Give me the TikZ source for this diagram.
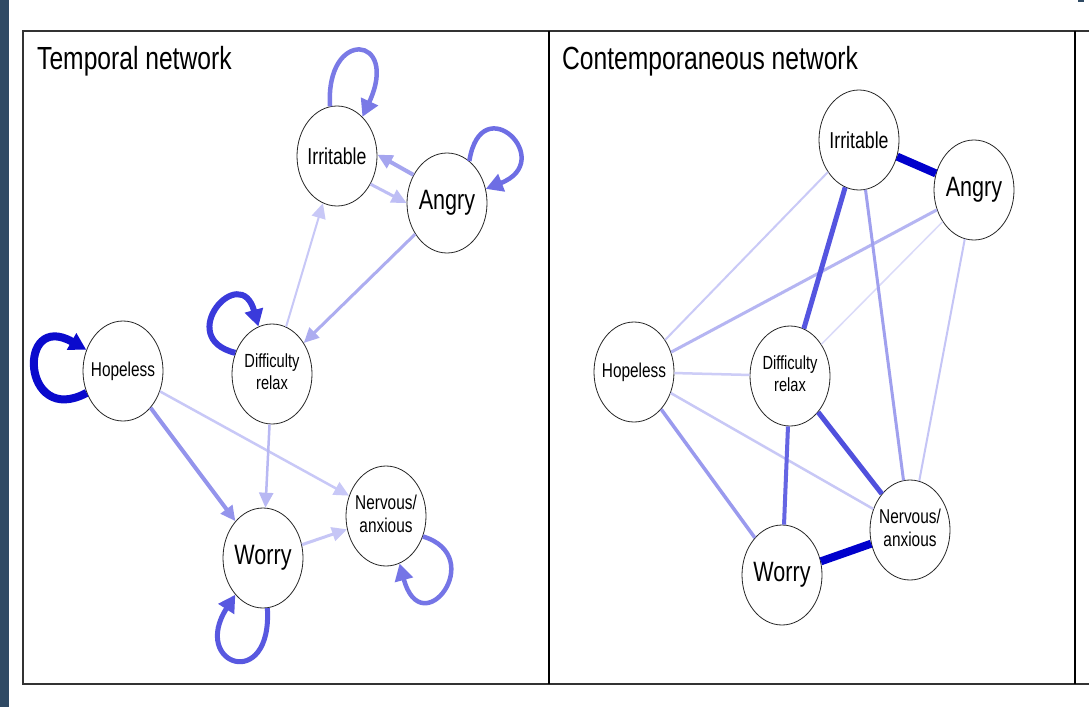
\documentclass[tikz,border=0pt]{standalone}
\usepackage{fontspec}
\setmainfont{Liberation Sans}
\usetikzlibrary{shapes.geometric,arrows.meta}
\newcommand{\sq}[1]{\scalebox{0.77}[1]{#1}}
\definecolor{stripc}{RGB}{47,74,100}
\definecolor{framec}{HTML}{333333}
% temporal colours
\definecolor{cLoopHop}{HTML}{0A0ACD}
\definecolor{cLoopDif}{HTML}{3A3ADB}
\definecolor{cLoopWor}{HTML}{5858E0}
\definecolor{cLoopNer}{HTML}{7575E6}
\definecolor{cLoopIrr}{HTML}{7A7AE6}
\definecolor{cLoopAng}{HTML}{6E6EE4}
\definecolor{cAI}{HTML}{A5A5EF}
\definecolor{cIA}{HTML}{BEBEF5}
\definecolor{cAD}{HTML}{ADADF0}
\definecolor{cDI}{HTML}{C8C8F7}
\definecolor{cDW}{HTML}{B8B8F3}
\definecolor{cHW}{HTML}{9494EC}
\definecolor{cHN}{HTML}{C8C8F7}
\definecolor{cWN}{HTML}{C6C6F6}
% contemporaneous colours
\definecolor{kIA}{HTML}{0000CC}
\definecolor{kWN}{HTML}{0000CC}
\definecolor{kID}{HTML}{5555E0}
\definecolor{kDN}{HTML}{5050DD}
\definecolor{kDW}{HTML}{6565E3}
\definecolor{kHW}{HTML}{9A9AEE}
\definecolor{kIN}{HTML}{A0A0EE}
\definecolor{kAH}{HTML}{B5B5F2}
\definecolor{kAN}{HTML}{C5C5F6}
\definecolor{kIH}{HTML}{CACAF7}
\definecolor{kHD}{HTML}{CDCDF7}
\definecolor{kHN}{HTML}{C8C8F6}
\definecolor{kAD}{HTML}{DADAF9}
\begin{document}
\begin{tikzpicture}[x=1pt,y=-1pt,
  vnode/.style={ellipse, draw=black!85, line width=0.8pt, fill=white,
    minimum width=80pt, minimum height=100pt, inner sep=-12pt},
  big/.style={font=\fontsize{28}{32}\selectfont},
  mid/.style={font=\fontsize{23}{26}\selectfont},
  small/.style={font=\fontsize{20}{23}\selectfont},
  tiny/.style={font=\fontsize{19}{22}\selectfont},
  title/.style={anchor=base west, inner sep=0pt, font=\fontsize{32}{38}\selectfont},
  tarr/.style={-{Triangle[length=15pt,width=14pt]}},
  larr/.style={-{Triangle[length=17pt,width=18pt]}},
  frame/.style={draw=framec, line width=2pt},
  divider/.style={draw=black, line width=2.5pt}
]
\useasboundingbox (0,0) rectangle (1089,707);
\fill[white] (0,0) rectangle (1089,707);
\fill[stripc] (0,0) rectangle (9,707);
\fill[stripc] (1078,0) rectangle (1084,2);

% frames
\draw[frame] (22,31) -- (1089,31);
\draw[frame] (22,684) -- (1089,684);
\draw[frame] (23,31) -- (23,684);
\draw[divider] (549,31) -- (549,684);
\draw[divider] (1075,31) -- (1075,684);

% titles
\node[title] (t1) at (37,69) {\sq{Temporal network}};
\node[title] (t2) at (562,69) {\sq{Contemporaneous network}};

% ---------- temporal network ----------
\node[vnode, mid] (irrT) at (337,156) {\sq{Irritable}};
\node[vnode, big] (angT) at (447,203) {\sq{Angry}};
\node[vnode, tiny] (difT) at (272,374) {\sq{\begin{tabular}{@{}c@{}}Difficulty\\relax\end{tabular}}};
\node[vnode, small] (hopT) at (123,371) {\sq{Hopeless}};
\node[vnode, big] (worT) at (263,558) {\sq{Worry}};
\node[vnode, small] (nerT) at (386,516) {\sq{\begin{tabular}{@{}c@{}}Nervous/\\anxious\end{tabular}}};

\draw[tarr, draw=cDI, line width=2pt] (difT) -- (irrT);
\draw[tarr, draw=cAD, line width=3pt] (angT) -- (difT);
\draw[tarr, draw=cAI, line width=4pt] (angT.140) -- (irrT.2);
\draw[tarr, draw=cIA, line width=3pt] (irrT.-40) -- (angT.180);
\draw[tarr, draw=cHW, line width=4pt] (hopT) -- (worT);
\draw[tarr, draw=cHN, line width=2.5pt] (hopT) -- (nerT);
\draw[tarr, draw=cDW, line width=2.5pt] (difT) -- (worT);
\draw[tarr, draw=cWN, line width=3pt] (worT) -- (nerT);

% self loops
\draw[larr, draw=cLoopIrr, line width=4.5pt]
  (irrT.98) .. controls +(-5,-79) and +(38,-82) .. (irrT.57);
\draw[larr, draw=cLoopAng, line width=4.5pt]
  (angT.62) .. controls +(12,-75) and +(72,-28) .. (angT.20);
\draw[larr, draw=cLoopDif, line width=6pt]
  (difT.150) .. controls +(-62,-15) and +(-18,-66) .. (difT.106);
\draw[larr, draw=cLoopHop, line width=8pt]
  (hopT.211) .. controls +(-65,35) and +(-70,-40) .. (hopT.150);
\draw[larr, draw=cLoopWor, line width=5pt]
  (worT.275) .. controls +(5,85) and +(-45,70) .. (worT.233);
\draw[larr, draw=cLoopNer, line width=4.5pt]
  (nerT.-29) .. controls +(66,20) and +(22,82) .. (nerT.-74);

% ---------- contemporaneous network ----------
\node[vnode, mid] (irrC) at (859,140) {\sq{Irritable}};
\node[vnode, big] (angC) at (974,190) {\sq{Angry}};
\node[vnode, small] (hopC) at (634,372) {\sq{Hopeless}};
\node[vnode, tiny] (difC) at (790,376) {\sq{\begin{tabular}{@{}c@{}}Difficulty\\relax\end{tabular}}};
\node[vnode, small] (nerC) at (910,530) {\sq{\begin{tabular}{@{}c@{}}Nervous/\\anxious\end{tabular}}};
\node[vnode, big] (worC) at (782,575) {\sq{Worry}};

\draw[draw=kAD, line width=1.5pt] (angC) -- (difC);
\draw[draw=kIH, line width=2pt] (irrC) -- (hopC);
\draw[draw=kHD, line width=2.5pt] (hopC) -- (difC);
\draw[draw=kHN, line width=2.5pt] (hopC) -- (nerC);
\draw[draw=kAN, line width=2pt] (angC) -- (nerC);
\draw[draw=kAH, line width=3pt] (angC) -- (hopC);
\draw[draw=kIN, line width=3pt] (irrC) -- (nerC);
\draw[draw=kHW, line width=3.5pt] (hopC) -- (worC);
\draw[draw=kDW, line width=4pt] (difC) -- (worC);
\draw[draw=kDN, line width=5pt] (difC) -- (nerC);
\draw[draw=kID, line width=5pt] (irrC) -- (difC);
\draw[draw=kIA, line width=8pt] (irrC) -- (angC);
\draw[draw=kWN, line width=8pt] (worC) -- (nerC);
\end{tikzpicture}
\end{document}
